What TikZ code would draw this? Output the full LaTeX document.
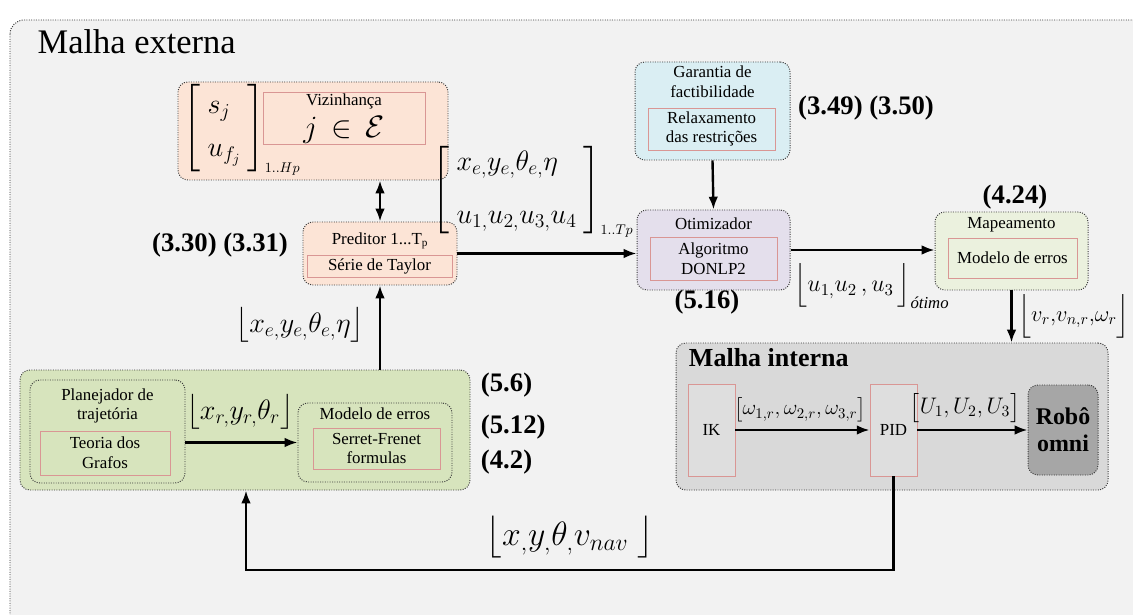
\RequirePackage{fix-cm}
\documentclass[tikz,border=0pt]{standalone}
\usepackage{amsmath}
\usepackage{fontspec}
\setmainfont{Liberation Serif}
\usetikzlibrary{arrows.meta,positioning,calc}
\definecolor{PaperGray}{HTML}{F2F2F2}
\definecolor{FrameInk}{HTML}{3A3A3A}
\definecolor{PeachFill}{HTML}{FCE4D6}
\definecolor{SkyFill}{HTML}{DAEEF3}
\definecolor{LilacFill}{HTML}{E4DFEC}
\definecolor{MintFill}{HTML}{EBF1DE}
\definecolor{OliveFill}{HTML}{D7E4BD}
\definecolor{LoopGray}{HTML}{D9D9D9}
\definecolor{BlockGray}{HTML}{DEDEDE}
\definecolor{RobotGray}{HTML}{A6A6A6}
\definecolor{BlockRed}{HTML}{D99694}

\begin{document}
\begin{tikzpicture}[
      sig/.tip={Latex[length=3.2mm,width=2.4mm]},
      panel/.style={draw=FrameInk,densely dotted,line width=0.7pt,rounded corners=7pt},
      redbox/.style={draw=BlockRed,line width=0.6pt,align=center,inner sep=1pt,
                     font=\fontsize{12}{14}\selectfont},
      txt/.style={align=center,font=\fontsize{12}{14}\selectfont},
      eqn/.style={font=\fontsize{19}{22}\selectfont\bfseries},
      lbl/.style={font=\fontsize{20}{24}\selectfont},
      flow/.style={-sig,line width=1.7pt},
    ]
    \useasboundingbox (0,0) rectangle (28.325,15.35);
    \fill[white] (0,0) rectangle (28.325,15.35);

    % outer loop
    \draw[panel,rounded corners=10pt,fill=PaperGray] (0.25,14.85) rectangle (28.8,-0.6);
    \node[anchor=west,font=\fontsize{24.5}{28}\selectfont,inner sep=1pt] (outerT) at (0.9,14.3) {Malha externa};

    % neighbourhood and predictor
    \node[panel,fill=PeachFill,minimum width=6.75cm,minimum height=2.45cm] (viz) at (7.825,12.075) {};
    \node[lbl] (vizM) at (6.05,12.1)
         {$\left[\begin{array}{l}s_{j}\\[7pt]u_{f_{j}}\end{array}\right]_{\scriptscriptstyle 1..Hp}$};
    \node[redbox,minimum width=4.05cm,minimum height=1.175cm] (vizR) at (8.6,12.3875)
         {Vizinhança\\[4pt]{\fontsize{22}{22}\selectfont$j\,\in\,\mathcal{E}$}};

    \node[panel,fill=PeachFill,minimum width=3.85cm,minimum height=1.575cm] (pred) at (9.5,9.0125) {};
    \node[txt] (predT) at (9.5,9.33) {Preditor 1...T\textsubscript{p}};
    \node[redbox,minimum width=3.625cm,minimum height=0.55cm] (predR) at (9.4875,8.7) {Série de Taylor};
    \node[eqn] (eqPred) at (5.5,9.225) {(3.30) (3.31)};

    % feasibility and optimizer
    \node[panel,fill=SkyFill,minimum width=3.875cm,minimum height=2.45cm] (gar) at (17.8125,12.575) {};
    \node[txt] (garT) at (17.8125,13.3) {Garantia de\\factibilidade};
    \node[redbox,minimum width=3.175cm,minimum height=1.05cm] (garR) at (17.79,12.125)
         {Relaxamento\\das restrições};
    \node[eqn] (eqGar) at (21.65,12.65) {(3.49) (3.50)};

    \node[panel,fill=LilacFill,minimum width=3.825cm,minimum height=2cm] (opt) at (17.8375,9.1) {};
    \node[txt] (optT) at (17.8375,9.75) {Otimizador};
    \node[redbox,minimum width=3.175cm,minimum height=1.075cm] (optR) at (17.8375,8.8875)
         {Algoritmo\\DONLP2};
    \node[eqn] (eqOpt) at (17.675,7.8) {(5.16)};

    % mapping
    \node[panel,fill=MintFill,minimum width=3.825cm,minimum height=1.95cm] (map) at (25.2875,9.075) {};
    \node[txt] (mapT) at (25.2875,9.725) {Mapeamento};
    \node[redbox,minimum width=3.225cm,minimum height=1cm] (mapR) at (25.3125,8.9) {Modelo de erros};
    \node[eqn] (eqMap) at (25.375,10.425) {(4.24)};

    % planner
    \node[panel,fill=OliveFill,minimum width=11.25cm,minimum height=3cm] (plan) at (6.125,4.6) {};
    \node[panel,minimum width=3.875cm,minimum height=2.575cm] (plnr) at (2.6875,4.5625) {};
    \node[txt] (plnrT) at (2.6875,5.2) {Planejador de\\trajetória};
    \node[redbox,minimum width=3.25cm,minimum height=1.1cm] (plnrR) at (2.625,4.025) {Teoria dos\\Grafos};
    \node[panel,minimum width=3.85cm,minimum height=1.975cm] (mod) at (9.375,4.2875) {};
    \node[txt] (modT) at (9.375,5.0) {Modelo de erros};
    \node[redbox,minimum width=3.175cm,minimum height=1.025cm] (modR) at (9.4125,4.1375)
         {Serret-Frenet\\formulas};
    \node[eqn,anchor=west] (eqA) at (11.9,5.725) {(5.6)};
    \node[eqn,anchor=west] (eqB) at (11.9,4.675) {(5.12)};
    \node[eqn,anchor=west] (eqC) at (11.9,3.8) {(4.2)};

    % inner loop
    \node[panel,fill=LoopGray,minimum width=10.8cm,minimum height=3.675cm] (inner) at (22.3,4.9375) {};
    \node[anchor=west,font=\fontsize{18.5}{22}\selectfont\bfseries] (innerT) at (17.1,6.42) {Malha interna};
    \node[redbox,fill=BlockGray,minimum width=1.175cm,minimum height=2.3cm] (ik) at (17.7875,4.6) {IK};
    \node[redbox,fill=BlockGray,minimum width=1.175cm,minimum height=2.3cm] (pid) at (22.3375,4.6) {PID};
    \node[panel,fill=RobotGray,minimum width=1.75cm,minimum height=2.25cm,inner sep=1pt,
          align=center,font=\fontsize{17}{19}\selectfont\bfseries] (robo) at (26.575,4.6) {Robô\\omni};

    % signals
    \draw[flow,sig-sig] (pred.north) -- (pred.north |- viz.south);
    \draw[flow] (pred.east) -- (pred.east -| opt.west);
    \draw[flow] (gar.south) -- (opt.north);
    \draw[flow] (opt.east) -- (opt.east -| map.west);
    \draw[flow] (map.south) -- (map.south |- inner.north);
    \draw[flow] (pred.south |- plan.north) -- (pred.south);
    \draw[flow] (plnr.east |- mod.west) -- (mod.west);
    \draw[flow] (ik.east) -- (pid.west);
    \draw[flow] (pid.east) -- (robo.west);
    \coordinate (fb) at (6.15,1.1);
    \draw[flow] (pid.south) |- (fb) -- (fb |- plan.south);

    \node[lbl] (errVec) at (13.325,10.55)
         {$\left[\begin{array}{l}x_{e,}y_{e,}\theta_{e,}\eta\\[14pt]u_{1,}u_{2,}u_{3,}u_{4}\end{array}\right]_{\scriptscriptstyle 1..Tp}$};
    \node[lbl] (errState) at (7.5,7.225) {$\bigl\lfloor x_{e,}y_{e,}\theta_{e,}\eta\bigr\rfloor$};
    \node[font=\fontsize{17}{20}\selectfont] (uOpt) at (21.8,8.2)
         {$\Bigl\lfloor u_{1,}u_{2}\,,u_{3}\,\Bigr\rfloor_{\text{\itshape ótimo}}$};
    \node[font=\fontsize{16}{19}\selectfont,anchor=west,inner sep=0pt] (vRef) at (25.45,7.45)
         {$\Bigl\lfloor v_{r}{,}v_{n,r}{,}\omega_{r}\Bigr\rfloor$};
    \node[lbl] (xyRef) at (6.0,5.05) {$\bigl\lfloor x_{r,}y_{r,}\theta_{r}\bigr\rfloor$};
    \node[font=\fontsize{15}{18}\selectfont] (wRef) at (20.0,5.11)
         {$\bigl[\omega_{1,r},\omega_{2,r},\omega_{3,r}\bigr]$};
    \node[font=\fontsize{16}{18}\selectfont] (uCmd) at (24.125,5.15) {$\bigl[U_{1},U_{2},U_{3}\bigr]$};
    \node[font=\fontsize{24}{28}\selectfont] (pose) at (14.25,1.925)
         {$\bigl\lfloor x_{,}y_{,}\theta_{,}v_{nav}\;\bigr\rfloor$};
  \end{tikzpicture}
\end{document}
